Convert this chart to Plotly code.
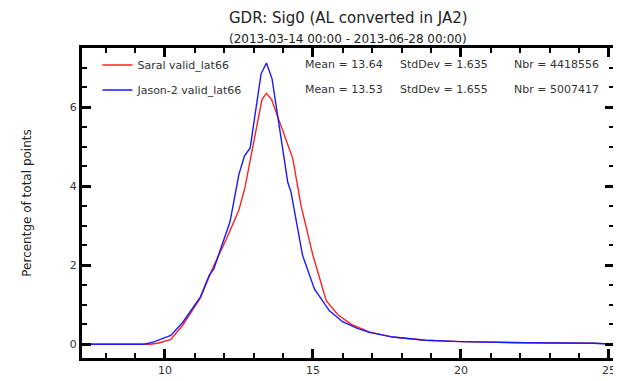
import plotly.graph_objects as go

# Saral valid_lat66
saral_x = [7.2, 9.5, 9.8, 10.2, 10.6, 11.2, 11.6, 12.1, 12.5, 12.7, 13.28, 13.43, 13.6, 13.93,
           14.32, 14.6, 15.0, 15.45, 15.85, 16.3, 16.9, 17.7, 18.8, 20.0, 22.2, 24.5, 25.2]
saral_y = [0, 0, 0.03, 0.12, 0.48, 1.17, 1.9, 2.7, 3.4, 3.95, 6.2, 6.35, 6.2, 5.5,
           4.7, 3.5, 2.25, 1.1, 0.74, 0.5, 0.31, 0.18, 0.1, 0.065, 0.035, 0.025, 0]

# Jason-2 valid_lat66
jason_x = [7.2, 9.3, 9.6, 10.0, 10.2, 10.6, 11.2, 11.5, 11.65, 11.9, 12.2, 12.5, 12.69, 12.88,
           13.25, 13.43, 13.62, 14.15, 14.26, 14.65, 15.05, 15.55, 16.0, 16.5, 16.9, 17.7,
           18.8, 20.0, 22.2, 24.5, 25.2]
jason_y = [0, 0, 0.05, 0.15, 0.22, 0.55, 1.2, 1.75, 1.9, 2.45, 3.1, 4.3, 4.77, 4.97,
           6.85, 7.12, 6.72, 4.1, 3.85, 2.25, 1.4, 0.85, 0.57, 0.4, 0.3, 0.18,
           0.1, 0.065, 0.035, 0.025, 0]

names = ["Saral valid_lat66", "Jason-2 valid_lat66"]
means = ["13.64", "13.53"]
stds = ["1.635", "1.655"]
nbrs = ["4418556", "5007417"]
colors = ["#ff2020", "#1a1aff"]

FONT = "DejaVu Sans"

fig = go.Figure()
for i, (xs, ys) in enumerate([(saral_x, saral_y), (jason_x, jason_y)]):
    fig.add_trace(go.Scatter(x=xs, y=ys, mode="lines", name=names[i],
                             legendgroup=f"g{i}",
                             line=dict(color=colors[i], width=1.4)))

rows_y = [0.9455, 0.865]
for i in range(2):
    for xp, txt in [(0.415, f"Mean = {means[i]}"), (0.594, f"StdDev = {stds[i]}"),
                    (0.809, f"Nbr = {nbrs[i]}")]:
        fig.add_annotation(x=xp, y=rows_y[i], xref="paper", yref="paper",
                           text=txt, showarrow=False, xanchor="left", yanchor="middle",
                           font=dict(family=FONT, size=11, color="#333333"))

fig.add_annotation(x=0.5, y=1.0, xref="paper", yref="paper", yshift=30,
                   text="GDR: Sig0 (AL converted in JA2)", showarrow=False,
                   xanchor="center", yanchor="middle",
                   font=dict(family=FONT, size=15, color="#222222"))
fig.add_annotation(x=0.5, y=1.0, xref="paper", yref="paper", yshift=9,
                   text="(2013-03-14 00:00 - 2013-06-28 00:00)", showarrow=False,
                   xanchor="center", yanchor="middle",
                   font=dict(family=FONT, size=12, color="#222222"))

axis_common = dict(showgrid=False, zeroline=False, showline=True, linecolor="#000000",
                   linewidth=3, ticks="inside", mirror="ticks", tickcolor="#000000",
                   tickwidth=2.5, ticklen=9,
                   tickfont=dict(family=FONT, size=11, color="#333333"))

fig.update_xaxes(range=[7.2, 25.17], tick0=0, dtick=5,
                 minor=dict(ticks="inside", dtick=1, ticklen=5, tickcolor="#000000", tickwidth=2),
                 **axis_common)
fig.update_yaxes(range=[-0.35, 7.5], tick0=0, dtick=2,
                 minor=dict(ticks="inside", dtick=0.5, ticklen=5, tickcolor="#000000", tickwidth=2),
                 title=dict(text="Percentge of total points", standoff=36,
                            font=dict(family=FONT, size=12, color="#222222")),
                 **axis_common)

fig.update_layout(
    width=613, height=373,
    margin=dict(l=74, r=4, t=40, b=21),
    plot_bgcolor="white", paper_bgcolor="white",
    showlegend=True,
    legend=dict(x=0.029, y=0.992, xanchor="left", yanchor="top",
                bgcolor="rgba(0,0,0,0)", tracegroupgap=6,
                font=dict(family=FONT, size=11, color="#333333")),
)

fig.write_html("out.html")
